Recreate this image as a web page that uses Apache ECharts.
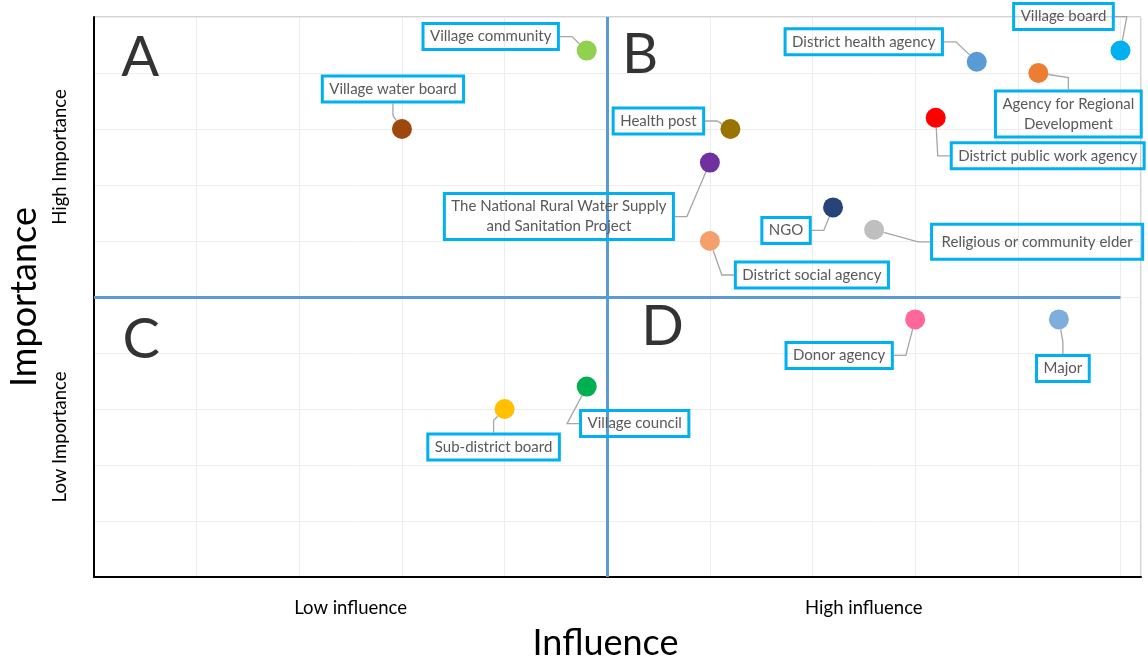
<!DOCTYPE html>
<html>
<head>
<meta charset="utf-8">
<script src="https://cdn.jsdelivr.net/npm/echarts@6/dist/echarts.min.js"></script>
<style>html,body{margin:0;padding:0;background:#fff}#c{width:1148px;height:663px}</style>
</head>
<body>
<div id="c"></div>
<script>
// ---- data ----
const names = [
  'Village community',
  'Village water board',
  'Health post',
  'The National Rural Water Supply\nand Sanitation Project',
  'District social agency',
  'NGO',
  'Religious or community elder',
  'District health agency',
  'Village board',
  'Agency for Regional\nDevelopment',
  'District public work agency',
  'Donor agency',
  'Major',
  'Village council',
  'Sub-district board'
];
const influence  = [4.8, 3.0, 6.2, 6.0, 6.0, 7.2, 7.6, 8.6, 10.0, 9.2, 8.2, 8.0, 9.4, 4.8, 4.0];
const importance = [9.4, 8.0, 8.0, 7.4, 6.0, 6.6, 6.2, 9.2, 9.4, 9.0, 8.2, 4.6, 4.6, 3.4, 3.0];
const colors = ['#92D050','#9E480E','#997300','#7030A0','#F3A06A','#264478','#BFBFBF','#5B9BD5',
                '#00B0F0','#ED7D31','#FF0000','#FF6699','#7FAEDD','#00B050','#FFC000'];

const xTickValues = [2.5, 7.5];
const xTickLabels = ['Low influence', 'High influence'];
const yTickValues = [2.5, 7.5];
const yTickLabels = ['Low Importance', 'High Importance'];

const quadrantNames = ['A', 'B', 'C', 'D'];
const quadrantX = [0.45, 5.32, 0.46, 5.54];
const quadrantY = [9.27, 9.32, 4.23, 4.46];
const splitX = 5, splitY = 5;

// ---- layout (label offsets in px from marker centre) ----
const labelOffsets = [
  [-96,-14], [-9,-40], [-72,-8], [-151,54], [102,34], [-47,23], [163,12], [-113,-20],
  [-57,-34], [30,41], [112,38], [-76,36], [4,49], [48,37], [-11,38]
];

const FONT = 'Lato';
const chart = echarts.init(document.getElementById('c'));

function tickFmt(values, labels) {
  return function (v) {
    for (let i = 0; i < values.length; i++) if (Math.abs(v - values[i]) < 1e-6) return labels[i];
    return '';
  };
}

const scatterData = names.map((n, i) => {
  const item = { name: n, value: [influence[i], importance[i]], itemStyle: { color: colors[i], opacity: 1 } };
  if (n === 'Religious or community elder') item.label = { padding: [8, 10, 7, 10] };
  return item;
});

const option = {
  animation: false,
  grid: { left: 94, top: 17, right: 7, bottom: 86, show: true, borderColor: '#A6A6A6', borderWidth: 1,
          containLabel: false, outerBoundsMode: 'none' },
  xAxis: [
    {
      type: 'value', min: 0, max: 10.2, interval: 1,
      axisLine: { show: true, onZero: false, lineStyle: { color: '#000', width: 2 } },
      axisTick: { show: false }, axisLabel: { show: false },
      splitLine: { show: true, lineStyle: { color: '#EDEDED', width: 1 } },
      name: 'Influence', nameLocation: 'middle', nameGap: 48,
      nameTextStyle: { fontSize: 36, fontFamily: FONT, color: '#000', padding: [0, 24, 0, 0] }
    },
    {
      type: 'value', position: 'bottom', min: 0, max: 10.2, interval: 2.5,
      axisLine: { show: false }, axisTick: { show: false }, splitLine: { show: false },
      axisLabel: { formatter: tickFmt(xTickValues, xTickLabels), fontSize: 18.5, fontFamily: FONT, color: '#000', margin: 22 }
    }
  ],
  yAxis: [
    {
      type: 'value', min: 0, max: 10, interval: 1,
      axisLine: { show: true, onZero: false, lineStyle: { color: '#000', width: 2 } },
      axisTick: { show: false }, axisLabel: { show: false },
      splitLine: { show: true, lineStyle: { color: '#EDEDED', width: 1 } },
      name: 'Importance', nameLocation: 'middle', nameGap: 52,
      nameTextStyle: { fontSize: 36, fontFamily: FONT, color: '#000' }
    },
    {
      type: 'value', position: 'left', min: 0, max: 10, interval: 2.5,
      axisLine: { show: false }, axisTick: { show: false }, splitLine: { show: false },
      axisLabel: { formatter: tickFmt(yTickValues, yTickLabels), rotate: 90, fontSize: 18.5, fontFamily: FONT, color: '#000', margin: 24 }
    }
  ],
  series: [
    {
      type: 'scatter', xAxisIndex: 0, yAxisIndex: 0, symbolSize: 0, silent: true,
      data: quadrantNames.map((q, i) => ({ name: q, value: [quadrantX[i], quadrantY[i]] })),
      label: { show: true, position: 'inside', formatter: '{b}', fontSize: 56, fontFamily: FONT, color: '#000' },
      markLine: {
        silent: true, symbol: 'none', label: { show: false },
        lineStyle: { color: '#5B9BD5', width: 3, type: 'solid' },
        data: [
          [{ coord: [splitX, 0] }, { coord: [splitX, 10] }],
          [{ coord: [0, splitY] }, { coord: [10, splitY] }]
        ]
      },
      z: 3
    },
    {
      type: 'scatter', xAxisIndex: 0, yAxisIndex: 0, symbolSize: 20,
      data: scatterData,
      label: {
        show: true, position: 'inside', formatter: '{b}', color: '#595959', fontSize: 15, fontFamily: FONT,
        lineHeight: 20, padding: [3, 7, 3, 7], borderColor: '#00B0F0', borderWidth: 1.5,
        backgroundColor: 'rgba(255,255,255,0)', align: 'center'
      },
      labelLine: { show: true, length2: 12, lineStyle: { color: '#A6A6A6', width: 1.3 } },
      labelLayout: function (p) {
        const o = labelOffsets[p.dataIndex];
        return { dx: o[0], dy: o[1] };
      },
      emphasis: { disabled: true },
      z: 5
    }
  ]
};
chart.setOption(option);
</script>
</body>
</html>
